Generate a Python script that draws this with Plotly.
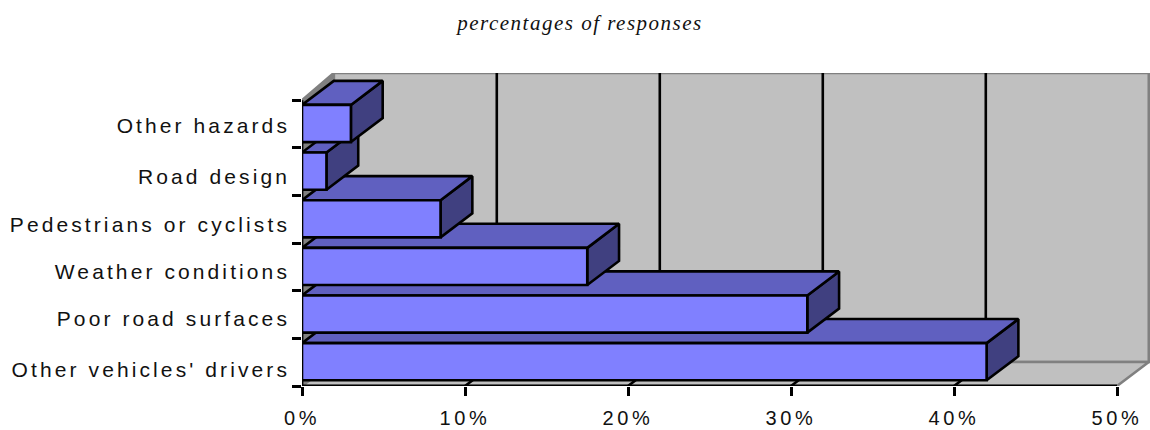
import plotly.graph_objects as go

categories = ["Other vehicles' drivers", "Poor road surfaces", "Weather conditions",
              "Pedestrians or cyclists", "Road design", "Other hazards"]
values = [42, 31, 17.5, 8.5, 1.5, 3]
label_positions = [0.34, 1.41, 2.40, 3.39, 4.40, 5.47]
x_ticks = [0, 10, 20, 30, 40, 50]
x_tick_labels = ["0%", "10%", "20%", "30%", "40%", "50%"]
title_text = "percentages of responses"

DX, DY = 1.95, 0.505
BAR_LO, BAR_HI = 0.12, 0.90
XMAX, YTOP = 50, 6
WALL_TOP = 6.57
FRONT, TOP, SIDE = "#8080FF", "#6060C0", "#404080"
WALL, EDGE = "#C0C0C0", "#808080"
LW = 2.6

fig = go.Figure()

def poly(xs, ys, fill, line, width=LW):
    fig.add_trace(go.Scatter(x=xs + xs[:1], y=ys + ys[:1], mode="lines", fill="toself",
                             fillcolor=fill, line=dict(color=line, width=width),
                             hoverinfo="skip", showlegend=False, cliponaxis=False))

def seg(xs, ys, color="black", width=LW):
    fig.add_trace(go.Scatter(x=xs, y=ys, mode="lines", line=dict(color=color, width=width),
                             hoverinfo="skip", showlegend=False, cliponaxis=False))

# walls and floor
poly([DX, XMAX + DX, XMAX + DX, DX], [DY, DY, WALL_TOP, WALL_TOP], WALL, EDGE)
poly([0, DX, DX, 0], [0, DY, WALL_TOP, YTOP], EDGE, EDGE)
poly([0, XMAX, XMAX + DX, DX], [0, 0, DY, DY], WALL, EDGE)

# gridlines on the wall and floor
for t in x_ticks[1:-1]:
    seg([t, t + DX, t + DX], [0, DY, WALL_TOP])

# axis lines
seg([0, XMAX], [0, 0], width=2.8)
seg([0, 0], [0, YTOP], width=2.8)

# bars, first category drawn first
for i, v in enumerate(values):
    lo, hi = i + BAR_LO, i + BAR_HI
    poly([v, v + DX, v + DX, v], [lo, lo + DY, hi + DY, hi], SIDE, "black")
    poly([0, v, v + DX, DX], [hi, hi, hi + DY, hi + DY], TOP, "black")
    poly([0, v, v, 0], [lo, lo, hi, hi], FRONT, "black")

# a trace for the tick-only y axis
fig.add_trace(go.Scatter(x=[0], y=[0], yaxis="y2", mode="lines", hoverinfo="skip", showlegend=False))

font = dict(family="Liberation Sans, Arial, sans-serif", size=21, color="#111111")
x_font = dict(family="Liberation Sans, Arial, sans-serif", size=20, color="#111111")
fig.update_layout(
    width=1150, height=430, autosize=False,
    margin=dict(l=302, r=0, t=73, b=44, pad=0, autoexpand=False),
    paper_bgcolor="white", plot_bgcolor="white",
    title=dict(text=title_text, x=580 / 1150, xanchor="center", y=1 - 23 / 430, yanchor="middle",
               font=dict(family="Liberation Serif, Times New Roman, serif", size=21, color="#111111", style="italic")),
    xaxis=dict(range=[0, 848 / 16.3], tickmode="array", tickvals=x_ticks, ticktext=x_tick_labels,
               ticks="outside", ticklen=9, tickwidth=2.5, tickcolor="black", showgrid=False, automargin=False,
               zeroline=False, showline=False, tickfont=x_font, ticklabelstandoff=5),
    yaxis=dict(range=[0, WALL_TOP], tickmode="array", tickvals=label_positions, automargin=False,
               ticktext=categories, ticks="", showgrid=False, zeroline=False, showline=False,
               tickfont=font, ticklabelstandoff=11),
    yaxis2=dict(range=[0, WALL_TOP], overlaying="y", side="left", tickmode="array", automargin=False,
                tickvals=list(range(len(categories) + 1)), ticktext=[""] * (len(categories) + 1),
                ticks="outside", ticklen=9, tickwidth=2.5, tickcolor="black", showgrid=False,
                zeroline=False, showline=False),
)

spacing = """
var s = document.createElement('style');
s.textContent = '.xtick text { letter-spacing: 3.6px; } .ytick text { letter-spacing: 3.1px; } .gtitle { letter-spacing: 1.5px; } html, body { margin: 0; padding: 0; overflow: hidden; }';
document.head.appendChild(s);
"""
fig.write_html("out.html", post_script=spacing, config={"displayModeBar": False})
